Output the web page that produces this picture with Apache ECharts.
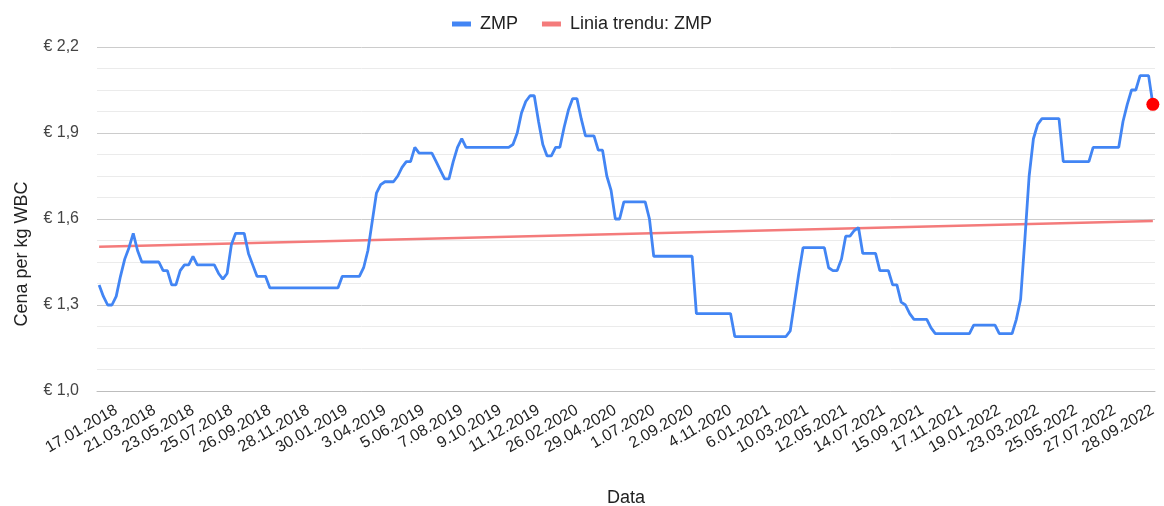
<!DOCTYPE html>
<html>
<head>
<meta charset="utf-8">
<script src="https://cdn.jsdelivr.net/npm/echarts@6/dist/echarts.min.js"></script>
<style>
  html, body { margin: 0; padding: 0; background: #fff; }
  #chart { width: 1164px; height: 506px; }
</style>
</head>
<body>
<div id="chart"></div>
<script>
// weekly quotations, first week 20.12.2017; weeks 25.12.2019 and 1.01.2020 are missing in the source
const startDate = Date.UTC(2017, 11, 20)
const missingWeeks = ['25.12.2019', '1.01.2020']
const weekCount = 250

// price per kg WBC (EUR), one value per week
const zmpValues = [
  1.37, 1.33, 1.30, 1.30, 1.33, 1.40, 1.46, 1.50, 1.55, 1.49,
  1.45, 1.45, 1.45, 1.45, 1.45, 1.42, 1.42, 1.37, 1.37, 1.42,
  1.44, 1.44, 1.47, 1.44, 1.44, 1.44, 1.44, 1.44, 1.41, 1.39,
  1.41, 1.51, 1.55, 1.55, 1.55, 1.48, 1.44, 1.40, 1.40, 1.40,
  1.36, 1.36, 1.36, 1.36, 1.36, 1.36, 1.36, 1.36, 1.36, 1.36,
  1.36, 1.36, 1.36, 1.36, 1.36, 1.36, 1.36, 1.40, 1.40, 1.40,
  1.40, 1.40, 1.43, 1.49, 1.59, 1.69, 1.72, 1.73, 1.73, 1.73,
  1.75, 1.78, 1.80, 1.80, 1.85, 1.83, 1.83, 1.83, 1.83, 1.80,
  1.77, 1.74, 1.74, 1.80, 1.85, 1.88, 1.85, 1.85, 1.85, 1.85,
  1.85, 1.85, 1.85, 1.85, 1.85, 1.85, 1.85, 1.86, 1.90, 1.97,
  2.01, 2.03, 2.03, 1.94, 1.86, 1.82, 1.82, 1.85, 1.85, 1.92,
  1.98, 2.02, 2.02, 1.95, 1.89, 1.89, 1.89, 1.84, 1.84, 1.75,
  1.70, 1.60, 1.60, 1.66, 1.66, 1.66, 1.66, 1.66, 1.66, 1.60,
  1.47, 1.47, 1.47, 1.47, 1.47, 1.47, 1.47, 1.47, 1.47, 1.47,
  1.27, 1.27, 1.27, 1.27, 1.27, 1.27, 1.27, 1.27, 1.27, 1.19,
  1.19, 1.19, 1.19, 1.19, 1.19, 1.19, 1.19, 1.19, 1.19, 1.19,
  1.19, 1.19, 1.21, 1.31, 1.41, 1.50, 1.50, 1.50, 1.50, 1.50,
  1.50, 1.43, 1.42, 1.42, 1.46, 1.54, 1.54, 1.56, 1.57, 1.48,
  1.48, 1.48, 1.48, 1.42, 1.42, 1.42, 1.37, 1.37, 1.31, 1.30,
  1.27, 1.25, 1.25, 1.25, 1.25, 1.22, 1.20, 1.20, 1.20, 1.20,
  1.20, 1.20, 1.20, 1.20, 1.20, 1.23, 1.23, 1.23, 1.23, 1.23,
  1.23, 1.20, 1.20, 1.20, 1.20, 1.25, 1.32, 1.53, 1.75, 1.88,
  1.93, 1.95, 1.95, 1.95, 1.95, 1.95, 1.80, 1.80, 1.80, 1.80,
  1.80, 1.80, 1.80, 1.85, 1.85, 1.85, 1.85, 1.85, 1.85, 1.85,
  1.94, 2.00, 2.05, 2.05, 2.10, 2.10, 2.10, 2.00
]

// trend line end values (first week, last week)
const trendEnds = [1.503, 1.593]

// visible y ticks: € 1,0 ... € 2,2 every 0,3 with 3 minor lines between
const yMin = 1.0
const yMax = 2.2
const yStep = 0.075

const labelEvery = 9
const firstLabel = 4

const pad = n => (n < 10 ? '0' + n : '' + n)
const categories = []
for (let w = 0; w < weekCount && categories.length < zmpValues.length; w++) {
  const d = new Date(startDate + w * 7 * 86400000)
  const label = d.getUTCDate() + '.' + pad(d.getUTCMonth() + 1) + '.' + d.getUTCFullYear()
  if (missingWeeks.indexOf(label) === -1) categories.push(label)
}

const zmpData = zmpValues.map((v, i) => i === zmpValues.length - 1
  ? { value: v, symbol: 'circle', symbolSize: 13, itemStyle: { color: '#ff0000' } }
  : v)

const trendData = [
  [categories[0], trendEnds[0]],
  [categories[categories.length - 1], trendEnds[1]]
]

const fontFamily = 'Arial, "Liberation Sans", sans-serif'
const gridSteps = Math.round((yMax - yMin) / yStep)

const chart = echarts.init(document.getElementById('chart'), null, { renderer: 'canvas' })

chart.setOption({
  animation: false,
  backgroundColor: '#ffffff',
  textStyle: { fontFamily },
  grid: { left: 97, right: 9, top: 47, bottom: 115, containLabel: false, outerBoundsMode: 'none' },
  legend: {
    top: 10,
    left: 'center',
    itemWidth: 19,
    itemHeight: 5,
    itemGap: 24,
    textStyle: { fontSize: 18, color: '#222', padding: [0, 0, 0, 4] },
    data: [
      { name: 'ZMP', icon: 'rect' },
      { name: 'Linia trendu: ZMP', icon: 'rect' }
    ]
  },
  xAxis: {
    type: 'category',
    data: categories,
    boundaryGap: true,
    name: 'Data',
    nameLocation: 'middle',
    nameGap: 98,
    nameTextStyle: { fontSize: 18, color: '#222' },
    axisLine: { show: true, lineStyle: { color: '#bdbdbd', width: 1 } },
    axisTick: { show: false },
    axisLabel: {
      rotate: 30,
      margin: 18,
      fontSize: 16,
      color: '#222',
      interval: (idx) => idx >= firstLabel && (idx - firstLabel) % labelEvery === 0
    },
    splitLine: { show: false }
  },
  yAxis: [
    {
      // grid and labels, counted in 0,075 steps from € 1,0
      type: 'value',
      min: 0,
      max: gridSteps,
      interval: 4,
      name: 'Cena per kg WBC',
      nameLocation: 'middle',
      nameGap: 66,
      nameTextStyle: { fontSize: 18, color: '#222', padding: [0, 70, 0, 0] },
      axisLine: { show: false },
      axisTick: { show: false },
      axisLabel: {
        margin: 18,
        fontSize: 16,
        color: '#444',
        formatter: v => '€ ' + (yMin + v * yStep).toFixed(1).replace('.', ',')
      },
      splitLine: { lineStyle: { color: '#cccccc', width: 1 } },
      minorTick: { show: false, splitNumber: 4 },
      minorSplitLine: { show: true, lineStyle: { color: '#ebebeb', width: 1 } }
    },
    {
      // data scale, same extent in euros
      type: 'value',
      min: yMin,
      max: yMax,
      show: false,
      splitLine: { show: false }
    }
  ],
  series: [
    {
      name: 'ZMP',
      type: 'line',
      yAxisIndex: 1,
      data: zmpData,
      showSymbol: true,
      symbol: 'none',
      clip: false,
      color: '#4285f4',
      lineStyle: { color: '#4285f4', width: 2.8 },
      z: 3
    },
    {
      name: 'Linia trendu: ZMP',
      type: 'line',
      yAxisIndex: 1,
      data: trendData,
      symbol: 'none',
      color: '#f47b7b',
      lineStyle: { color: '#f47b7b', width: 2.4 },
      z: 2
    }
  ]
})
</script>
</body>
</html>
